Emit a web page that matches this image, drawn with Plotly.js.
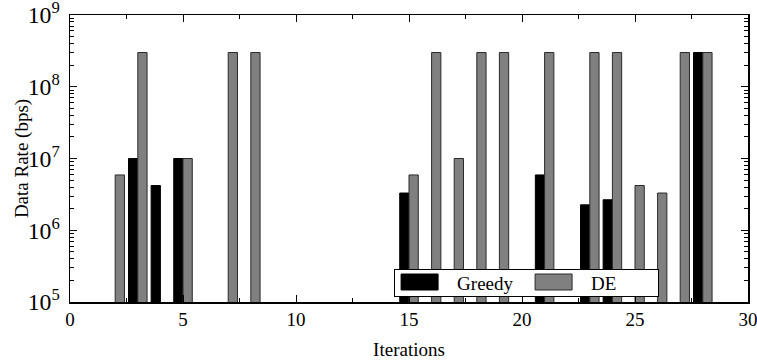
<!DOCTYPE html>
<html>
<head>
<meta charset="utf-8">
<script src="https://cdn.plot.ly/plotly-3.0.1.min.js"></script>
<style>
  html, body { margin: 0; padding: 0; background: #fff; }
  #chart { width: 757px; height: 360px; }
  #chart text, #chart tspan { font-family: "Liberation Serif", "Times New Roman", serif !important; }
</style>
</head>
<body>
<div id="chart"></div>
<script>
// Iteration index (x) and data rate values (bps); null = no bar shown
const iterations = [1, 2, 3, 4, 5, 6, 7, 8, 9, 10, 11, 12, 13, 14, 15,
                    16, 17, 18, 19, 20, 21, 22, 23, 24, 25, 26, 27, 28, 29, 30];
const greedy = [null, null, 1e7, 4.2e6, 1e7, null, null, null, null, null, null, null, null, null, 3.3e6,
                null, null, null, null, null, 5.9e6, null, 2.26e6, 2.66e6, null, null, null, 3e8, null, null];
const de = [null, 5.9e6, 3e8, null, 1e7, null, 3e8, 3e8, null, null, null, null, null, null, 5.9e6,
            3e8, 1e7, 3e8, 3e8, null, 3e8, null, 3e8, 3e8, 4.2e6, 3.3e6, 3e8, 3e8, null, null];
const seriesNames = ["Greedy", "DE"];
const xTitle = "Iterations";
const yTitle = "Data Rate (bps)";

const FONT = "Liberation Serif";

const traces = [
  {
    type: "bar", name: seriesNames[0], x: iterations, y: greedy,
    marker: { color: "#000000", line: { color: "#000000", width: 1 } }
  },
  {
    type: "bar", name: seriesNames[1], x: iterations, y: de,
    marker: { color: "#808080", line: { color: "#2a2a2a", width: 1 } }
  }
];

function axisCommon() {
  return {
    showline: true, linecolor: "#000", linewidth: 1.5, mirror: "allticks",
    ticks: "inside", ticklen: 7, tickwidth: 1, tickcolor: "#000",
    showgrid: false, zeroline: false, automargin: false,
    ticklabeloverflow: "allow",
    tickfont: { family: FONT, size: 19, color: "#000" }
  };
}

const layout = {
  width: 757, height: 360,
  margin: { l: 70, r: 9, t: 15, b: 58, autoexpand: false },
  paper_bgcolor: "#fff", plot_bgcolor: "#fff",
  font: { family: FONT, size: 19, color: "#000" },
  barmode: "group", bargap: 0.18, bargroupgap: 0,
  showlegend: true,
  legend: {
    orientation: "h", x: 0.478, xanchor: "left", y: 0.133, yanchor: "top",
    bgcolor: "#fff", bordercolor: "#000", borderwidth: 1,
    font: { family: FONT, size: 19, color: "#000" },
    itemwidth: 52, entrywidth: 67, traceorder: "normal"
  },
  xaxis: Object.assign(axisCommon(), {
    range: [0, 30], tickmode: "linear", tick0: 0, dtick: 5,
    minor: { dtick: 2.5, ticks: "inside", ticklen: 4, tickcolor: "#000" },
    title: { text: xTitle, font: { family: FONT, size: 19, color: "#000" } }
  }),
  yaxis: Object.assign(axisCommon(), {
    type: "log", range: [4.9999, 9.0001], dtick: 1, exponentformat: "power",
    ticklabelstandoff: 5,
    minor: { dtick: "D1", ticks: "inside", ticklen: 4, tickcolor: "#000" },
    title: { text: yTitle, font: { family: FONT, size: 19, color: "#000" } }
  })
};

let fixed = false;
function fixLayoutDetails() {
  if (fixed) return;
  fixed = true;
  // Legend: reposition so text baseline sits like the reference, and size the frame/swatches
  const leg = document.querySelector("#chart .legend");
  if (leg) {
    const txt = leg.querySelector("text.legendtext");
    const tb = txt.getBoundingClientRect();
    const baseline = tb.bottom - 0.216 * 19;
    const m = /translate\(\s*([-\d.e]+)[\s,]+([-\d.e]+)\s*\)/.exec(leg.getAttribute("transform") || "");
    if (m) {
      const lx = parseFloat(m[1]);
      const ly = parseFloat(m[2]) + (290 - baseline);
      leg.setAttribute("transform", "translate(" + lx + "," + ly + ")");
      const bg = leg.querySelector("rect.bg");
      if (bg) {
        bg.setAttribute("y", String(269 - ly));
        bg.setAttribute("height", "27");
        bg.setAttribute("width", "264");
      }
      leg.querySelectorAll(".legendpoints path").forEach(function (p) {
        p.setAttribute("d", "M12,8H-25V-8H12Z");
        const r = p.getBoundingClientRect();
        const dy = 282 - (r.top + r.bottom) / 2;
        p.setAttribute("d", "M12," + (8 + dy) + "H-25V" + (-8 + dy) + "H12Z");
      });
    }
  }
  // y-axis title: center it at x ~ 22 px like the reference
  const yt = document.querySelector("#chart .ytitle");
  if (yt) {
    const r = yt.getBoundingClientRect();
    const dx = 22 - (r.left + r.right) / 2;
    yt.setAttribute("transform", "translate(" + dx + ",0) " + (yt.getAttribute("transform") || ""));
  }
}
Plotly.newPlot("chart", traces, layout, { staticPlot: true, displayModeBar: false }).then(function () {
  fixLayoutDetails();
});
</script>
</body>
</html>
